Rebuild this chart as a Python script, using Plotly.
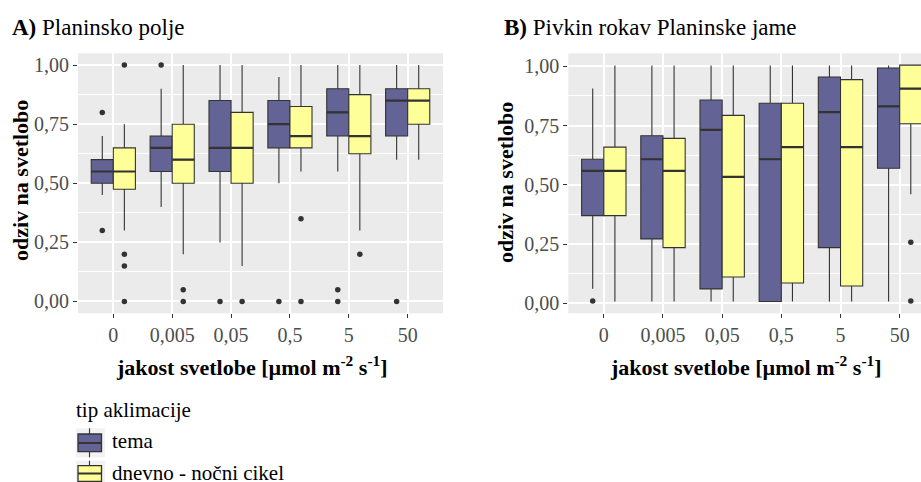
import plotly.graph_objects as go

# ---------------- data ----------------
categories = ["0", "0,005", "0,05", "0,5", "5", "50"]
types = ["tema", "dnevno - nočni cikel"]

# Panel A: Planinsko polje
A_tema_q1 = [0.50, 0.55, 0.55, 0.65, 0.70, 0.70]
A_tema_med = [0.55, 0.65, 0.65, 0.75, 0.80, 0.85]
A_tema_q3 = [0.60, 0.70, 0.85, 0.85, 0.90, 0.90]
A_tema_lo = [0.45, 0.40, 0.25, 0.50, 0.55, 0.60]
A_tema_hi = [0.70, 0.90, 1.00, 0.95, 1.00, 1.00]
A_tema_out_cat = [0, 0, 1, 2, 3, 4, 4, 5]
A_tema_out_val = [0.80, 0.30, 1.00, 0.00, 0.00, 0.05, 0.00, 0.00]

A_dn_q1 = [0.475, 0.50, 0.50, 0.65, 0.625, 0.75]
A_dn_med = [0.55, 0.60, 0.65, 0.70, 0.70, 0.85]
A_dn_q3 = [0.65, 0.75, 0.80, 0.825, 0.875, 0.90]
A_dn_lo = [0.30, 0.20, 0.15, 0.55, 0.30, 0.60]
A_dn_hi = [0.75, 1.00, 1.00, 1.00, 1.00, 1.00]
A_dn_out_cat = [0, 0, 0, 0, 1, 1, 2, 3, 3, 4]
A_dn_out_val = [1.00, 0.20, 0.15, 0.00, 0.05, 0.00, 0.00, 0.35, 0.00, 0.20]

# Panel B: Pivkin rokav Planinske jame
B_tema_q1 = [0.370, 0.272, 0.061, 0.008, 0.235, 0.570]
B_tema_med = [0.559, 0.608, 0.732, 0.608, 0.807, 0.831]
B_tema_q3 = [0.608, 0.707, 0.858, 0.844, 0.955, 0.993]
B_tema_lo = [0.062, 0.008, 0.008, 0.008, 0.008, 0.008]
B_tema_hi = [0.906, 1.003, 1.003, 1.003, 1.003, 1.003]
B_tema_out_cat = [0]
B_tema_out_val = [0.010]

B_dn_q1 = [0.370, 0.235, 0.111, 0.086, 0.073, 0.758]
B_dn_med = [0.559, 0.559, 0.534, 0.659, 0.659, 0.906]
B_dn_q3 = [0.659, 0.696, 0.793, 0.844, 0.944, 1.005]
B_dn_lo = [0.008, 0.008, 0.008, 0.008, 0.008, 0.460]
B_dn_hi = [1.003, 1.003, 1.003, 1.003, 1.003, 1.005]
B_dn_out_cat = [5, 5]
B_dn_out_val = [0.258, 0.010]

y_ticks = [0, 0.25, 0.5, 0.75, 1.0]

# ---------------- style ----------------
FONT = "Liberation Serif"
C_TEMA = "#646396"
C_DN = "#FFFF99"
EDGE = "#333333"
BOX_W = 0.375
W, H = 921, 482

def px(x):
    return x / W

def py(y):
    return 1 - y / H

fig = go.Figure()

def add_panel(xa, ya, stats, color, offset):
    q1, med, q3, lo, hi, oc, ov = stats
    pos = [i + offset for i in range(len(categories))]
    fig.add_trace(go.Box(
        x=pos, q1=q1, median=med, q3=q3, lowerfence=lo, upperfence=hi,
        width=BOX_W, fillcolor=color, line=dict(color=EDGE, width=1.1),
        whiskerwidth=0, boxpoints=False, xaxis=xa, yaxis=ya,
        showlegend=False, hoverinfo="skip"))
    mx, my = [], []
    for p, m in zip(pos, med):
        mx += [p - BOX_W / 2, p + BOX_W / 2, None]
        my += [m, m, None]
    fig.add_trace(go.Scatter(x=mx, y=my, mode="lines",
                             line=dict(color=EDGE, width=2.2),
                             xaxis=xa, yaxis=ya, showlegend=False,
                             hoverinfo="skip"))
    fig.add_trace(go.Scatter(x=[c + offset for c in oc], y=ov, mode="markers",
                             marker=dict(color=EDGE, size=5.5),
                             xaxis=xa, yaxis=ya, showlegend=False,
                             hoverinfo="skip"))

add_panel("x", "y", (A_tema_q1, A_tema_med, A_tema_q3, A_tema_lo, A_tema_hi,
                     A_tema_out_cat, A_tema_out_val), C_TEMA, -BOX_W / 2)
add_panel("x", "y", (A_dn_q1, A_dn_med, A_dn_q3, A_dn_lo, A_dn_hi,
                     A_dn_out_cat, A_dn_out_val), C_DN, BOX_W / 2)
add_panel("x2", "y2", (B_tema_q1, B_tema_med, B_tema_q3, B_tema_lo, B_tema_hi,
                       B_tema_out_cat, B_tema_out_val), C_TEMA, -BOX_W / 2)
add_panel("x2", "y2", (B_dn_q1, B_dn_med, B_dn_q3, B_dn_lo, B_dn_hi,
                       B_dn_out_cat, B_dn_out_val), C_DN, BOX_W / 2)

tickfont = dict(family=FONT, size=20, color="#4D4D4D")
ydom = [py(313.3), py(53.3)]

xcommon = dict(tickvals=list(range(len(categories))), ticktext=categories,
               showgrid=True, gridcolor="white", gridwidth=1.6,
               zeroline=False, ticks="outside", ticklen=4, tickwidth=1,
               tickcolor=EDGE, tickfont=tickfont, showline=False)
ycommon = dict(tickvals=y_ticks, tickformat=".2f", showgrid=True,
               gridcolor="white", gridwidth=1.6, zeroline=False,
               ticks="outside", ticklen=4, tickwidth=1, tickcolor=EDGE,
               tickfont=tickfont, showline=False, domain=ydom,
               minor=dict(tickvals=[0.125, 0.375, 0.625, 0.875],
                          showgrid=True, gridcolor="white", gridwidth=0.8,
                          ticks=""))

fig.update_layout(
    width=W, height=H, margin=dict(l=0, r=0, t=0, b=0),
    paper_bgcolor="white", plot_bgcolor="#EBEBEB",
    font=dict(family=FONT, size=20),
    separators=", ", boxmode="overlay", showlegend=False,
    xaxis=dict(domain=[px(78), px(443)], range=[-0.6, 5.6], anchor="y", **xcommon),
    yaxis=dict(range=[-0.05, 1.05], anchor="x", **ycommon),
    xaxis2=dict(domain=[px(568.3), 1.0], range=[-0.6, 5.36], anchor="y2", **xcommon),
    yaxis2=dict(range=[-0.042, 1.055], anchor="x2", **ycommon),
)

ann = []
def text(x, y, s, size, xanchor="left", angle=0, color="black"):
    ann.append(dict(x=px(x), y=py(y), xref="paper", yref="paper", text=s,
                    showarrow=False, xanchor=xanchor, yanchor="middle",
                    textangle=angle,
                    font=dict(family=FONT, size=size, color=color)))

# panel titles
text(10, 27, "<b>A)</b> Planinsko polje", 23)
text(502, 27, "<b>B)</b> Pivkin rokav Planinske jame", 23)
# axis titles
xt = "<b>jakost svetlobe [µmol m<sup>-2</sup> s<sup>-1</sup>]</b>"
text(252, 366, xt, 22, xanchor="center")
text(746, 366, xt, 22, xanchor="center")
yt = "<b>odziv na svetlobo</b>"
text(20, 181, yt, 22, xanchor="center", angle=-90)
text(505, 183, yt, 22, xanchor="center", angle=-90)
# legend
text(74, 410, "tip aklimacije", 21)
text(110, 441, types[0], 21)
text(110, 473, types[1], 21)

# legend keys: (background top, background bottom, box top, box bottom, median)
keys = [(428.3, 457.3, 434.0, 451.7, 443.0, C_TEMA),
        (460.7, 490.0, 465.7, 481.5, 473.5, C_DN)]
shapes = []
for bt, bb, t, b, m, col in keys:
    shapes.append(dict(type="rect", xref="paper", yref="paper",
                       x0=px(76), x1=px(105), y0=py(bt), y1=py(bb),
                       fillcolor="#F2F2F2", line=dict(width=0), layer="below"))
    shapes.append(dict(type="line", xref="paper", yref="paper",
                       x0=px(89.5), x1=px(89.5), y0=py(bt), y1=py(bb),
                       line=dict(color=EDGE, width=1.1)))
    shapes.append(dict(type="rect", xref="paper", yref="paper",
                       x0=px(78), x1=px(101.5), y0=py(t), y1=py(b),
                       fillcolor=col, line=dict(color=EDGE, width=1.3)))
    shapes.append(dict(type="line", xref="paper", yref="paper",
                       x0=px(78), x1=px(101.5), y0=py(m), y1=py(m),
                       line=dict(color=EDGE, width=2)))

fig.update_layout(annotations=ann, shapes=shapes)
fig.write_html("out.html")
